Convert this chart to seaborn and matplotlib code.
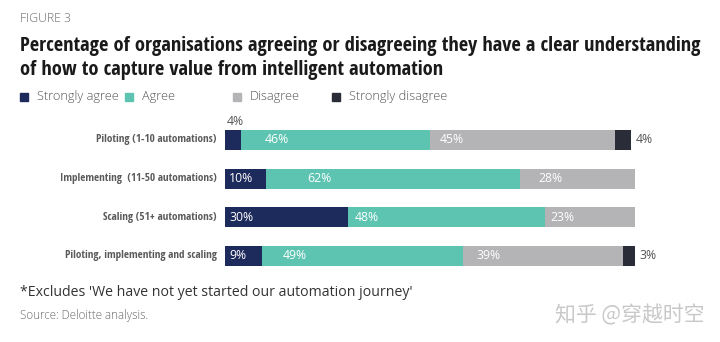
import matplotlib
matplotlib.use("Agg")
import matplotlib.pyplot as plt
import seaborn as sns
import pandas as pd
import numpy as np
from matplotlib.patches import Rectangle
from matplotlib import font_manager as fm
from matplotlib.transforms import offset_copy

# Survey results (percent of organisations)
stages = ["Piloting (1-10 automations)", "Implementing  (11-50 automations)",
          "Scaling (51+ automations)", "Piloting, implementing and scaling"]
strongly_agree = [4, 10, 30, 9]
agree = [46, 62, 48, 49]
disagree = [45, 28, 23, 39]
strongly_disagree = [4, 0, 0, 3]

series_names = ["Strongly agree", "Agree", "Disagree", "Strongly disagree"]
series_colors = ["#1d2a5c", "#5cc4b0", "#b4b3b5", "#2a2c38"]

sns.set_theme(style="white")
plt.rcParams["font.family"] = ["Open Sans", "DejaVu Sans"]

installed = {f.name for f in fm.fontManager.ttflist}
cond = next((n for n in ["Open Sans Condensed", "Asap Condensed", "Barlow Semi Condensed"]
             if n in installed), "DejaVu Sans")
cond_font = {"family": [cond, "DejaVu Sans"], "fontstretch": "condensed", "fontweight": "bold"}

fig = plt.figure(figsize=(7.2, 3.42), dpi=100)
fig.patch.set_facecolor("white")
ax = fig.add_axes([225 / 720, 1 - 275.3 / 342, 410 / 720, 154.7 / 342])

values = np.array([strongly_agree, agree, disagree, strongly_disagree], dtype=float)
cum = np.cumsum(values, axis=0)
df = pd.DataFrame({"stage": stages})

# Stacked bars: draw cumulative totals from the outermost layer inward
for i in range(len(series_names) - 1, -1, -1):
    df["v"] = cum[i]
    sns.barplot(data=df, x="v", y="stage", orient="h", color=series_colors[i],
                width=0.52, saturation=1, linewidth=0, ax=ax, order=stages)

ax.set_xlim(0, 100)
ax.set_ylim(3.5, -0.5)
ax.axis("off")

# Horizontal inset (points) of each in-bar label from its segment's left edge
inset_pt = [[3, 17, 7, 0], [3, 30, 13, 0], [3, 5, 4, 0], [3, 15, 10, 0]]

label_font = {"family": ["Open Sans", "DejaVu Sans"], "fontsize": 8.8}
for r in range(len(stages)):
    left = 0.0
    for i in range(len(series_names)):
        w = values[i][r]
        if w <= 0:
            continue
        txt = f"{int(w)}%"
        if w < 6:
            if i == 0:
                ax.text(left + w / 2 + 0.6, r - 0.3, txt, ha="center", va="bottom",
                        color="#555555", **label_font)
            else:
                ax.text(left + w + 1.2, r, txt, ha="left", va="center",
                        color="#555555", **label_font)
        else:
            tr = offset_copy(ax.transData, fig=fig, x=inset_pt[r][i], y=0, units="points")
            ax.text(left, r, txt, ha="left", va="center", color="white",
                    transform=tr, **label_font)
        left += w

# Category labels
for r, s in enumerate(stages):
    ax.text(-2, r, s, ha="right", va="center", fontsize=8.0, color="#5a5a5a",
            **cond_font)

# Header texts
fig.text(20 / 720, 1 - 18 / 342, "FIGURE 3", fontsize=8.8, color="#6b6b6b",
         va="center", ha="left", fontweight="light")
fig.text(20 / 720, 1 - 46.5 / 342,
         "Percentage of organisations agreeing or disagreeing they have a clear understanding",
         fontsize=14.75, color="#1a1a1a", va="center", ha="left", **cond_font)
fig.text(20 / 720, 1 - 70.5 / 342,
         "of how to capture value from intelligent automation",
         fontsize=14.75, color="#1a1a1a", va="center", ha="left", **cond_font)

# Legend
legend_x = [20, 125, 233, 332]
for name, col, lx in zip(series_names, series_colors, legend_x):
    fig.patches.append(Rectangle((lx / 720, 1 - 101 / 342), 8 / 720, 8 / 342,
                                 transform=fig.transFigure, color=col, figure=fig))
    fig.text((lx + 17) / 720, 1 - 96.5 / 342, name, fontsize=9.2, color="#555555",
             va="center", ha="left", fontweight="light")

# Footnotes
fig.text(20 / 720, 1 - 293 / 342,
         "*Excludes 'We have not yet started our automation journey'",
         fontsize=10.2, color="#333333", va="center", ha="left")
fig.text(20 / 720, 1 - 315 / 342, "Source: Deloitte analysis.", fontsize=8.4,
         color="#6b6b6b", va="center", ha="left", fontweight="light")
fig.text(705 / 720, 1 - 315 / 342, "知乎 @穿越时空", fontsize=15, color="#c8c8c8",
         va="center", ha="right", family=["Noto Sans CJK SC", "DejaVu Sans"])

fig.savefig("out.png", dpi=100, facecolor="white")
